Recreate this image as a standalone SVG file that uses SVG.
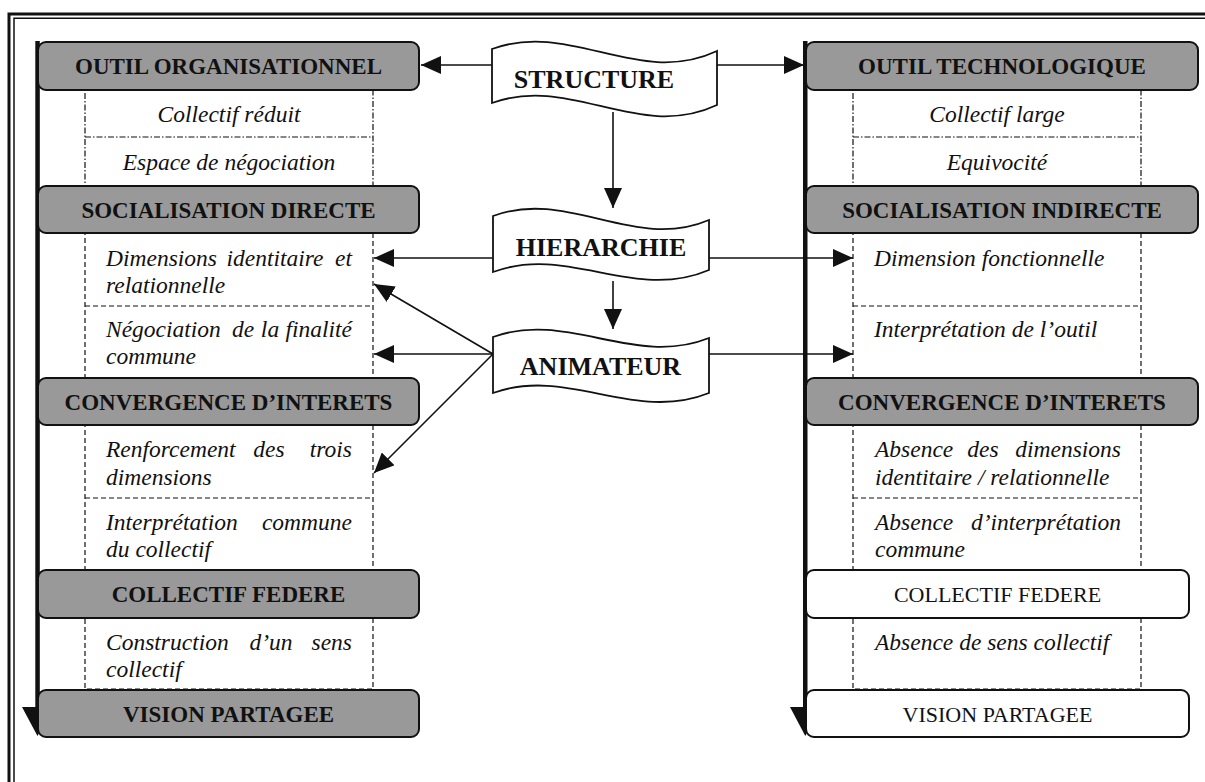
<svg xmlns="http://www.w3.org/2000/svg" width="1205" height="782" viewBox="0 0 1205 782">
<style>
.hb{fill:#999;stroke:#111;stroke-width:2}
.hw{fill:#fff;stroke:#111;stroke-width:2}
.bt{font-family:"Liberation Serif","Times New Roman",serif;font-weight:bold;font-size:23px;fill:#111;text-anchor:middle}
.rt{font-family:"Liberation Serif","Times New Roman",serif;font-size:22px;fill:#111;text-anchor:middle}
.it{font-family:"Liberation Serif","Times New Roman",serif;font-style:italic;font-size:23.5px;fill:#111}
.mid{text-anchor:middle}
.end{text-anchor:end}
.dash{fill:none;stroke:#111;stroke-width:1.2;stroke-dasharray:5 3}
.dd{fill:none;stroke:#111;stroke-width:1.2;stroke-dasharray:6 2 1.5 2}
.ban{fill:#fff;stroke:#111;stroke-width:1.8}
.bn{font-family:"Liberation Serif","Times New Roman",serif;font-weight:bold;font-size:26px;fill:#111;text-anchor:middle}
.con{fill:none;stroke:#111;stroke-width:1.6;marker-end:url(#ah)}
</style>
<defs>
<marker id="ah" viewBox="0 0 20 18" refX="20" refY="9" markerWidth="20" markerHeight="18" markerUnits="userSpaceOnUse" orient="auto">
<path d="M0,0 L20,9 L0,18 Z" fill="#111"/>
</marker>
</defs>
<rect width="1205" height="782" fill="#fff"/>
<g id="frame" fill="none" stroke="#111">
<path d="M9,782 V14 H1205" stroke-width="3"/>
<path d="M14,782 V18.3 H1205" stroke-width="1.5"/>
</g>
<g id="left-axis">
<rect x="35.3" y="41" width="4.5" height="668" fill="#111"/>
<polygon points="22,707 53,707 37.5,736" fill="#111"/>
</g>
<g id="right-axis">
<rect x="803" y="41" width="4.5" height="668" fill="#111"/>
<polygon points="790,707 821,707 805.3,736" fill="#111"/>
</g>
<g id="left-sections">
<rect class="dd" x="85" y="90" width="288" height="96"/>
<line class="dd" x1="85" y1="137" x2="373" y2="137"/>
<rect class="dash" x="85" y="233" width="288" height="145"/>
<line class="dash" x1="85" y1="306" x2="373" y2="306"/>
<rect class="dash" x="85" y="425" width="288" height="145"/>
<line class="dash" x1="85" y1="498" x2="373" y2="498"/>
<rect class="dash" x="85" y="618" width="288" height="71"/>
</g>
<g id="right-sections">
<rect class="dd" x="853" y="90" width="288" height="96"/>
<line class="dd" x1="853" y1="137" x2="1141" y2="137"/>
<rect class="dash" x="853" y="233" width="288" height="145"/>
<line class="dash" x1="853" y1="306" x2="1141" y2="306"/>
<rect class="dash" x="853" y="425" width="288" height="145"/>
<line class="dash" x1="853" y1="498" x2="1141" y2="498"/>
<rect class="dash" x="853" y="618" width="288" height="71"/>
</g>
<g id="connectors">
<path class="con" d="M492,65 H421"/>
<path class="con" d="M717,65 H804"/>
<path class="con" d="M613,112 V208"/>
<path class="con" d="M493,258 H374"/>
<path class="con" d="M709,258 H853"/>
<path class="con" d="M613,281 V329"/>
<path class="con" d="M493,354 L374,284"/>
<path class="con" d="M493,354 H374"/>
<path class="con" d="M493,354 L374,473"/>
<path class="con" d="M709,354 H853"/>
</g>
<g id="n-outil-org"><rect class="hb" x="38" y="42" width="381" height="48" rx="8"/><text class="bt" x="228.5" y="74">OUTIL ORGANISATIONNEL</text></g>
<g id="n-socialisation-directe"><rect class="hb" x="38" y="186" width="381" height="47" rx="8"/><text class="bt" x="228.5" y="218">SOCIALISATION DIRECTE</text></g>
<g id="n-convergence-left"><rect class="hb" x="38" y="378" width="381" height="47" rx="8"/><text class="bt" x="228.5" y="410">CONVERGENCE D’INTERETS</text></g>
<g id="n-collectif-federe-left"><rect class="hb" x="38" y="570" width="381" height="48" rx="8"/><text class="bt" x="228.5" y="602">COLLECTIF FEDERE</text></g>
<g id="n-vision-left"><rect class="hb" x="38" y="690" width="381" height="47" rx="8"/><text class="bt" x="228.5" y="722">VISION PARTAGEE</text></g>
<g id="n-outil-tech"><rect class="hb" x="806" y="42" width="392" height="48" rx="8"/><text class="bt" x="1002" y="74">OUTIL TECHNOLOGIQUE</text></g>
<g id="n-socialisation-indirecte"><rect class="hb" x="806" y="186" width="392" height="47" rx="8"/><text class="bt" x="1002" y="218">SOCIALISATION INDIRECTE</text></g>
<g id="n-convergence-right"><rect class="hb" x="806" y="378" width="392" height="47" rx="8"/><text class="bt" x="1002" y="410">CONVERGENCE D’INTERETS</text></g>
<g id="n-collectif-federe-right"><rect class="hw" x="806" y="570" width="383" height="48" rx="8"/><text class="rt" x="997.5" y="602">COLLECTIF FEDERE</text></g>
<g id="n-vision-right"><rect class="hw" x="806" y="690" width="383" height="47" rx="8"/><text class="rt" x="997.5" y="722">VISION PARTAGEE</text></g>
<g id="left-texts">
<text class="it mid" x="229" y="122">Collectif réduit</text>
<text class="it mid" x="229" y="170">Espace de négociation</text>
<text class="it" x="106" y="266">Dimensions</text><text class="it mid" x="275" y="266">identitaire</text><text class="it end" x="352" y="266">et</text>
<text class="it" x="106" y="293">relationnelle</text>
<text class="it" x="106" y="337">Négociation</text><text class="it mid" x="243" y="337">de</text><text class="it mid" x="270" y="337">la</text><text class="it end" x="352" y="337">finalité</text>
<text class="it" x="106" y="364">commune</text>
<text class="it" x="106" y="457">Renforcement</text><text class="it mid" x="269" y="457">des</text><text class="it end" x="352" y="457">trois</text>
<text class="it" x="106" y="485">dimensions</text>
<text class="it" x="106" y="530">Interprétation</text><text class="it end" x="352" y="530">commune</text>
<text class="it" x="106" y="557">du collectif</text>
<text class="it" x="106" y="650">Construction</text><text class="it mid" x="271" y="650">d’un</text><text class="it end" x="352" y="650">sens</text>
<text class="it" x="106" y="677">collectif</text>
</g>
<g id="right-texts">
<text class="it mid" x="997" y="122">Collectif large</text>
<text class="it mid" x="997" y="170">Equivocité</text>
<text class="it" x="874" y="266">Dimension fonctionnelle</text>
<text class="it" x="874" y="337">Interprétation de l’outil</text>
<text class="it" x="875" y="457">Absence</text><text class="it mid" x="983" y="457">des</text><text class="it end" x="1121" y="457">dimensions</text>
<text class="it" x="875" y="485">identitaire / relationnelle</text>
<text class="it" x="875" y="530">Absence</text><text class="it end" x="1121" y="530">d’interprétation</text>
<text class="it" x="875" y="557">commune</text>
<text class="it" x="875" y="650">Absence de sens collectif</text>
</g>
<g id="n-structure">
<path class="ban" d="M492,49 C571,20 638,88 717,51 L717,105 C638,142 571,74 492,103 Z"/>
<text class="bn" x="594" y="88">STRUCTURE</text>
</g>
<g id="n-hierarchie">
<path class="ban" d="M493,216 C568,188 634,252 709,220 L709,270 C634,302 568,244 493,272 Z"/>
<text class="bn" x="601" y="256">HIERARCHIE</text>
</g>
<g id="n-animateur">
<path class="ban" d="M493,337 C568,310 634,368 709,338 L709,393 C634,423 568,366 493,393 Z"/>
<text class="bn" x="600.5" y="375">ANIMATEUR</text>
</g>
</svg>
